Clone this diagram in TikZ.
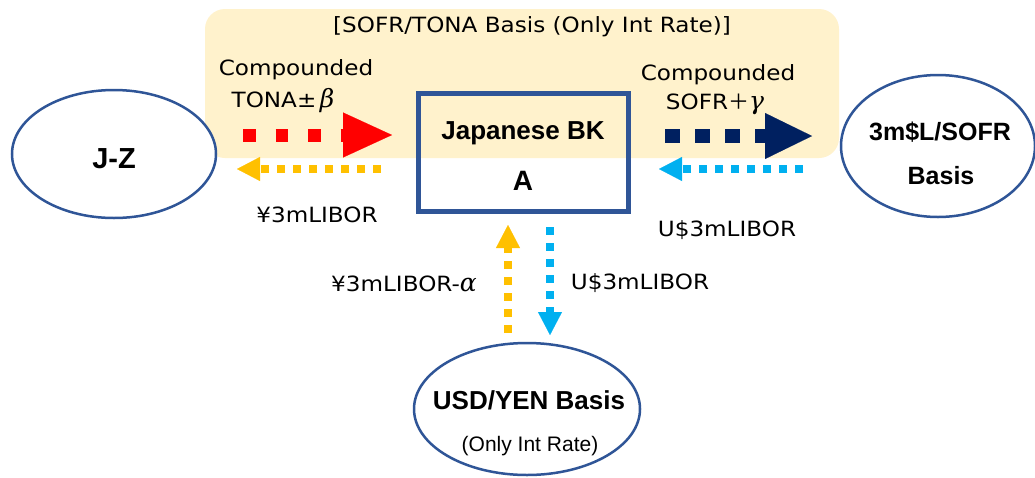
\documentclass[tikz,border=0pt]{standalone}
\usepackage{fontspec}
\setmainfont{Liberation Sans}
\newfontfamily\lbl[FakeStretch=1.1]{DejaVu Sans}
\newfontfamily\jp{Noto Sans CJK JP}
\newfontfamily\grkfont{DejaVu Serif}
\usetikzlibrary{arrows.meta,shapes.geometric}
\definecolor{bgy}{HTML}{FFF2CC}
\definecolor{boxblue}{HTML}{2F5597}
\definecolor{navy}{HTML}{002060}
\definecolor{gold}{HTML}{FFC000}
\definecolor{sky}{HTML}{00B0F0}
\newcommand{\grk}[1]{{\grkfont\itshape\fontsize{25}{30}\selectfont #1}}
\tikzset{
  ell/.style={ellipse, draw=boxblue, line width=2.5pt, fill=white, inner sep=0pt},
  boldtxt/.style={font=\bfseries\fontsize{26}{30}\selectfont, inner sep=0pt},
  lbltxt/.style={font=\lbl\fontsize{21}{25}\selectfont, inner sep=0pt, anchor=center},
  bigarr/.style={line width=13pt, dash pattern=on 12.5pt off 20pt,
     -{Triangle[length=49pt,width=45pt,line width=0.1pt]}},
  bigarrn/.style={line width=14pt, dash pattern=on 15pt off 15pt,
     -{Triangle[length=47pt,width=46pt,line width=0.1pt]}},
  smallarr/.style={line width=8pt, dash pattern=on 8pt off 8pt,
     -{Triangle[length=23pt,width=24pt,line width=0.1pt]}},
}
\begin{document}
\begin{tikzpicture}[x=1pt,y=-1pt]
\useasboundingbox (0,0) rectangle (1035,477);
\fill[white] (0,0) rectangle (1035,477);
% background band
\fill[bgy, rounded corners=20pt] (205,9) rectangle (839,158);
\node[lbltxt] (title) at (532,27) {[SOFR/TONA Basis (Only Int Rate)]};

% ellipses
\node[ell, minimum width=204pt, minimum height=128pt] (jz) at (114,154) {};
\node[boldtxt, font=\bfseries\fontsize{29}{33}\selectfont] (jzt) at (114,159) {J-Z};
\node[ell, minimum width=194pt, minimum height=142pt] (sofr) at (938,146) {};
\node[boldtxt, font=\bfseries\fontsize{25}{30}\selectfont] (sofrt1) at (940,132) {3m\$L/SOFR};
\node[boldtxt, font=\bfseries\fontsize{25}{30}\selectfont] (sofrt2) at (941,176) {Basis};
\node[ell, minimum width=226pt, minimum height=132pt] (usd) at (527,409) {};
\node[boldtxt, font=\bfseries\fontsize{26}{30}\selectfont] (usdt1) at (529,400) {USD/YEN Basis};
\node[inner sep=0pt, font=\fontsize{21}{25}\selectfont] (usdt2) at (530,446) {(Only Int Rate)};

% bank box
\node[draw=boxblue, line width=5pt, minimum width=210pt, minimum height=118pt, inner sep=0pt] (bk) at (523,152.5) {};
\node[boldtxt] (bkt1) at (523,133) {Japanese BK};
\node[boldtxt, font=\bfseries\fontsize{28}{32}\selectfont] (bkt2) at (523,181) {A};

% arrow end points
\coordinate (r0) at (243,135);
\coordinate (r1) at (392,135);
\coordinate (n0) at (665,136);
\coordinate (n1) at (812,136);
\coordinate (y0) at (381,169);
\coordinate (y1) at (237,169);
\coordinate (c0) at (803,169);
\coordinate (c1) at (659,169);
\coordinate (v0) at (508,333);
\coordinate (v1) at (508,225);
\coordinate (w0) at (550,227);
\coordinate (w1) at (550,335);

\draw[bigarr, red] (r0) -- (r1);
\draw[bigarrn, navy] (n0) -- (n1);
\draw[smallarr, gold] (y0) -- (y1);
\draw[smallarr, sky] (c0) -- (c1);
\draw[smallarr, gold] (v0) -- (v1);
\draw[smallarr, sky] (w0) -- (w1);

% labels
\node[lbltxt] (l1) at (296,70) {Compounded};
\node[lbltxt] (l2) at (283,101) {TONA±\,\grk{β}};
\node[lbltxt] (l3) at (718,75) {Compounded};
\node[lbltxt] (l4) at (715,104) {SOFR{\jp ＋}\grk{γ}};
\node[lbltxt] (l5) at (317,215) {¥3mLIBOR};
\node[lbltxt] (l6) at (727,230) {U\$3mLIBOR};
\node[lbltxt] (l7) at (404,284) {¥3mLIBOR-\grk{α}};
\node[lbltxt] (l8) at (640,283) {U\$3mLIBOR};
\end{tikzpicture}
\end{document}
